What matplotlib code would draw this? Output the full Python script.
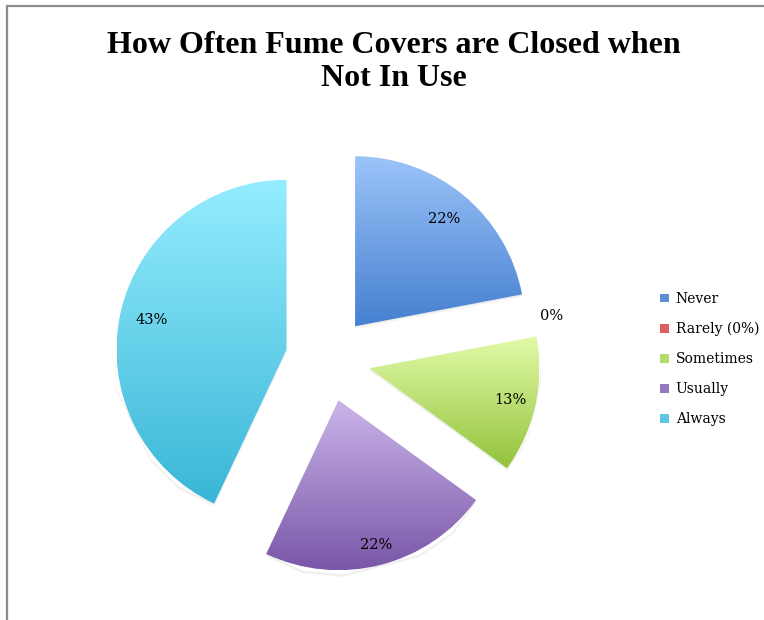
import numpy as np
import matplotlib.pyplot as plt
from matplotlib.colors import LinearSegmentedColormap
from matplotlib.lines import Line2D
from matplotlib.patches import Patch

categories = ['Never', 'Rarely (0%)', 'Sometimes', 'Usually', 'Always']
values = [22, 0, 13, 22, 43]
pct_labels = ['22%', '0%', '13%', '22%', '43%']
top_colors = ['#9cc4f9', '#f08a88', '#e2fba8', '#cbb5ea', '#95edff']
bottom_colors = ['#4680d0', '#c0504d', '#93c23c', '#7956a8', '#39b6d6']
legend_colors = ['#5b8fd6', '#d9605c', '#b4dc6c', '#9678c0', '#5cc8e2']
label_dist = [0.82, 1.09, 0.85, 0.88, 0.81]

plt.rcParams['font.family'] = ['DejaVu Serif']

fig = plt.figure(figsize=(7.64, 6.2), dpi=100)
ax = fig.add_axes([0, 0, 1, 1])

# pie centre sits at pixel (328, 359), radius 170 px
r_px = 170.0
cx, cy = 328.0, 359.0
explode = [0.25] * len(values)
wedges, _ = ax.pie(values, explode=explode, startangle=90, counterclock=False,
                   radius=1.0, normalize=True)
ax.axis('off')

for i, w in enumerate(wedges):
    w.set_facecolor('none')
    w.set_edgecolor('none')
    if values[i] == 0:
        continue
    ext = w.get_path().get_extents()
    # soft shadow below the slice
    for k, a in enumerate([0.04, 0.05, 0.07]):
        off = (3 - k) / r_px
        sh = plt.Polygon(w.get_path().vertices + np.array([0.0, -off]),
                         closed=True, facecolor='gray', edgecolor='none', alpha=a, zorder=1)
        ax.add_patch(sh)
    cmap = LinearSegmentedColormap.from_list('g%d' % i, [bottom_colors[i], top_colors[i]])
    grad = np.linspace(0, 1, 256).reshape(-1, 1)
    im = ax.imshow(grad, cmap=cmap, origin='lower', aspect='auto',
                   extent=[ext.x0, ext.x1, ext.y0, ext.y1], zorder=2)
    im.set_clip_path(w)
    # cover the shadow inside the slice
    cover = plt.Polygon(w.get_path().vertices, closed=True, facecolor='white',
                        edgecolor='none', zorder=1.5)
    ax.add_patch(cover)

# percentage labels
for i, w in enumerate(wedges):
    mid = np.deg2rad((w.theta1 + w.theta2) / 2)
    x0, y0 = w.center
    ax.text(x0 + label_dist[i] * np.cos(mid), y0 + label_dist[i] * np.sin(mid),
            pct_labels[i], ha='center', va='center', fontsize=10.5, color='black', zorder=5)

ax.set_xlim(-cx / r_px, (764 - cx) / r_px)
ax.set_ylim((cy - 620) / r_px, cy / r_px)
ax.set_aspect('auto')

fig.text(0.515, 0.9, 'How Often Fume Covers are Closed when\nNot In Use',
         ha='center', va='center', fontsize=23, fontweight='bold',
         family=['Liberation Serif', 'DejaVu Serif'], linespacing=1.15)

handles = [Patch(facecolor=c, edgecolor='none') for c in legend_colors]
fig.legend(handles, categories, loc='center left', bbox_to_anchor=(0.848, 0.421),
           frameon=False, fontsize=10, handlelength=0.6, handleheight=0.6,
           handletextpad=0.5, labelspacing=1.15)

# chart-area border (top and left edges)
fig.add_artist(Line2D([7 / 764, 7 / 764], [0, 1 - 6 / 620], color='#8c8c8c', lw=1.6))
fig.add_artist(Line2D([7 / 764, 1], [1 - 6 / 620, 1 - 6 / 620], color='#8c8c8c', lw=1.6))

fig.savefig('out.png', dpi=100)
